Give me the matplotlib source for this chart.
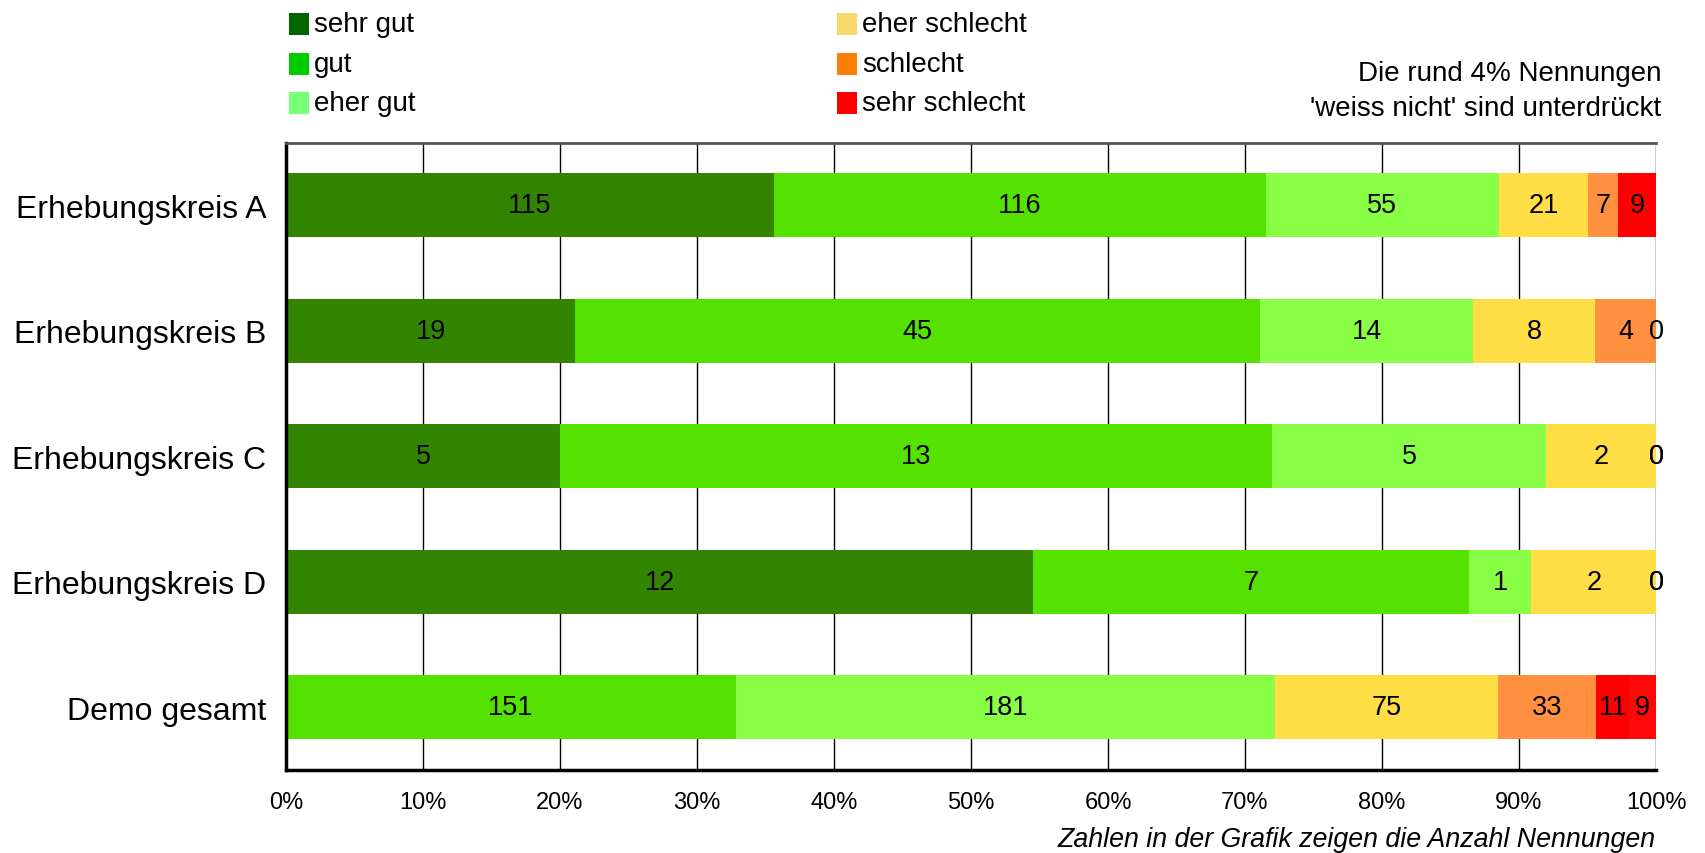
import matplotlib
matplotlib.use("Agg")
import matplotlib.pyplot as plt
from matplotlib.patches import Rectangle
import numpy as np

plt.rcParams['font.family'] = ['Liberation Sans', 'DejaVu Sans']

categories = ["Erhebungskreis A", "Erhebungskreis B", "Erhebungskreis C", "Erhebungskreis D"]
series_names = ["sehr gut", "gut", "eher gut", "eher schlecht", "schlecht", "sehr schlecht"]
sehr_gut = [115, 19, 5, 12]
gut = [116, 45, 13, 7]
eher_gut = [55, 14, 5, 1]
eher_schlecht = [21, 8, 2, 2]
schlecht = [7, 4, 0, 0]
sehr_schlecht = [9, 0, 0, 0]
total_label = "Demo gesamt"
total_values = [151, 181, 75, 33, 11, 9]

bar_colors = ["#338400", "#55e200", "#88ff44", "#ffdd44", "#ff9040", "#ff0000"]
total_colors = ["#55e200", "#88ff44", "#ffdd44", "#ff9040", "#ff0000", "#ff0808"]
legend_colors = ["#006600", "#00cc00", "#77ff77", "#f8d868", "#ff8000", "#ff0000"]
xticks = np.arange(0, 101, 10)
xtick_labels = [f"{t}%" for t in xticks]

fig = plt.figure(figsize=(17.05, 8.54), dpi=100)
ax = fig.add_axes([286/1705, 1-771/854, (1656-286)/1705, (771-143.5)/854])

series = [sehr_gut, gut, eher_gut, eher_schlecht, schlecht, sehr_schlecht]
rows = []
for i in range(len(categories)):
    rows.append(([s[i] for s in series], bar_colors))
rows.append((total_values, total_colors))
labels = categories + [total_label]

for yi, (vals, cols) in enumerate(rows):
    tot = sum(vals)
    left = 0.0
    for v, c in zip(vals, cols):
        w = v / tot * 100
        ax.barh(yi, w, left=left, height=0.51, color=c, edgecolor='none', zorder=2)
        ax.text(left + w / 2, yi, str(v), ha='center', va='center', fontsize=19.5,
                color='black', zorder=3)
        left += w

ax.set_xlim(0, 100)
ax.set_ylim(len(rows) - 0.5, -0.5)
ax.set_yticks(range(len(rows)))
ax.set_yticklabels(labels, fontsize=23)
ax.set_xticks(xticks)
ax.set_xticklabels(xtick_labels, fontsize=17)
ax.tick_params(axis='both', length=0)
ax.tick_params(axis='x', pad=15)
ax.tick_params(axis='y', pad=14)
for t in xticks[1:]:
    ax.axvline(t, color='black', lw=1.0, zorder=1)
ax.spines['left'].set_linewidth(2.5)
ax.spines['bottom'].set_linewidth(2.5)
ax.spines['top'].set_color('#555555')
ax.spines['top'].set_linewidth(2)
ax.spines['right'].set_visible(False)

# legend drawn manually
leg_x = [289, 837]
leg_y = [25, 65, 104]
for k, (name, col) in enumerate(zip(series_names, legend_colors)):
    cx = leg_x[k // 3]
    cy = leg_y[k % 3]
    fig.patches.append(Rectangle((cx/1705, 1-(cy+11)/854), 20/1705, 22/854,
                                 transform=fig.transFigure, facecolor=col, edgecolor='none'))
    fig.text((cx+25)/1705, 1-cy/854, name, ha='left', va='center', fontsize=20)

fig.text(1661/1705, 1-74/854, "Die rund 4% Nennungen", ha='right', va='center', fontsize=20)
fig.text(1661/1705, 1-109/854, "'weiss nicht' sind unterdrückt", ha='right', va='center', fontsize=20)
fig.text(1656/1705, 1-840/854, "Zahlen in der Grafik zeigen die Anzahl Nennungen",
         ha='right', va='center', fontsize=19.3, style='italic')

fig.savefig("out.png", dpi=100)
